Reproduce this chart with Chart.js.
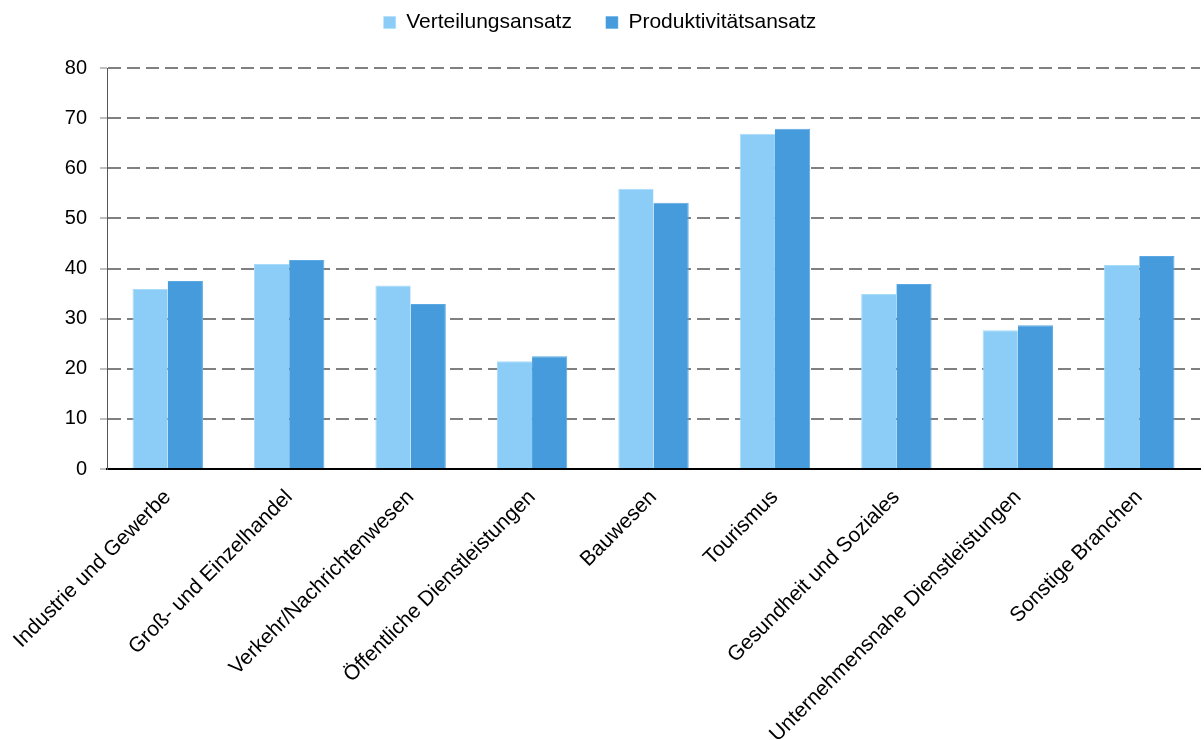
<!DOCTYPE html>
<html>
<head>
<meta charset="utf-8">
<script src="https://cdn.jsdelivr.net/npm/chart.js@4/dist/chart.umd.min.js"></script>
<style>
  html, body { margin: 0; padding: 0; background: #fff; }
  #wrap { width: 1204px; height: 740px; }
</style>
</head>
<body>
<div id="wrap"><canvas id="myChart"></canvas></div>
<script>
const branchen = [
  "Industrie und Gewerbe",
  "Groß- und Einzelhandel",
  "Verkehr/Nachrichtenwesen",
  "Öffentliche Dienstleistungen",
  "Bauwesen",
  "Tourismus",
  "Gesundheit und Soziales",
  "Unternehmensnahe Dienstleistungen",
  "Sonstige Branchen",
];
const verteilung = [35.9, 40.9, 36.6, 21.5, 55.9, 66.9, 34.9, 27.7, 40.7];
const produktivitaet = [37.5, 41.7, 32.9, 22.5, 53.1, 67.9, 36.9, 28.7, 42.5];
const yTicks = [0, 10, 20, 30, 40, 50, 60, 70, 80];

Chart.defaults.font.family = "'Liberation Sans', Arial, sans-serif";
Chart.defaults.color = "#000";

// extra room between the legend and the plot area
const legendGap = {
  id: "legendGap",
  beforeInit(chart) {
    const fit = chart.legend.fit;
    chart.legend.fit = function () {
      fit.call(this);
      this.height += 25;
    };
  },
};

const ctx = document.getElementById("myChart").getContext("2d");
const myChart = new Chart(ctx, {
  type: "bar",
  data: {
    labels: branchen,
    datasets: [
      {
        label: "Verteilungsansatz",
        data: verteilung,
        backgroundColor: "#8bcdf7",
        borderColor: "#a9dbfa",
        borderWidth: { top: 1, left: 1, right: 0, bottom: 0 },
      },
      {
        label: "Produktivitätsansatz",
        data: produktivitaet,
        backgroundColor: "#459bdb",
        borderColor: "#5aa9e3",
        borderWidth: { top: 1, left: 0, right: 1, bottom: 0 },
      },
    ],
  },
  plugins: [legendGap],
  options: {
    responsive: true,
    maintainAspectRatio: false,
    animation: false,
    layout: { padding: { top: -22, right: 4, left: 0, bottom: 0 } },
    datasets: {
      bar: { categoryPercentage: 0.58, barPercentage: 1.0 },
    },
    plugins: {
      tooltip: { enabled: false },
      legend: {
        position: "top",
        labels: {
          boxWidth: 12,
          boxHeight: 12,
          padding: 34,
          font: { size: 21 },
          color: "#000",
        },
      },
    },
    scales: {
      x: {
        grid: { display: false, drawTicks: false },
        border: { display: true, color: "#000", width: 2 },
        ticks: {
          autoSkip: false,
          minRotation: 45,
          maxRotation: 45,
          padding: 16,
          font: { size: 21 },
          color: "#000",
        },
        afterFit: (scale) => {
          scale.height = 271;
          scale.paddingLeft = 0;
          scale.paddingRight = 0;
        },
      },
      y: {
        min: 0,
        max: 80,
        afterBuildTicks: (scale) => {
          scale.ticks = yTicks.map((v) => ({ value: v }));
        },
        grid: {
          color: (c) => (c.tick && c.tick.value === 0 ? "rgba(0,0,0,0)" : "#808080"),
          lineWidth: 2,
          drawTicks: true,
          tickLength: 7,
          tickColor: "#808080",
          tickWidth: 1,
          tickBorderDash: [],
        },
        border: { display: true, color: "#555", width: 1, dash: [13, 6] },
        ticks: {
          padding: 13,
          font: { size: 20 },
          color: "#000",
        },
        afterFit: (scale) => {
          scale.width = 107;
        },
      },
    },
  },
});
</script>
</body>
</html>
